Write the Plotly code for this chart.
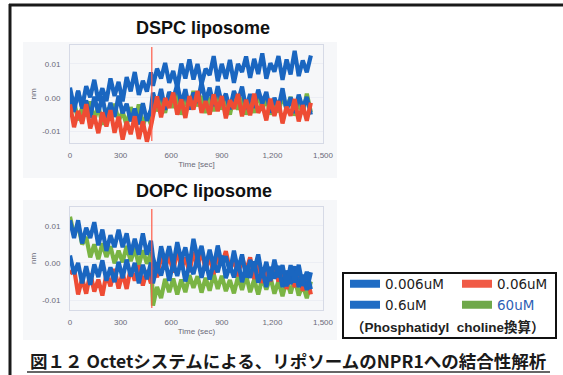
import plotly.graph_objects as go

# ---------------- data (response in units of 0.001 nm) ----------------
time_pre = list(range(0, 481, 24))       # before buffer switch (s)
time_post = list(range(492, 1429, 24))   # after buffer switch (s)
time_s = time_pre + time_post
step_time = 485

# DSPC liposome
dspc_blue_a = [3, -2.8, 1.9, -2.8, 3.4, 0.1, 5.3, -0.9, 2.8, -1, 5.7, 0.5, 4.7, -1.1, 6.1, 1.9, 7.6, 0.8, 5, 1.8, 7.5,
               3.5, 8.6, 5.7, 10.3, 4.4, 7.9, 3.0, 10.1, 5.7, 11.3, 5.4, 10.0, 4.0, 8.6, 6.7, 12.3, 4.9, 10.0, 5.6, 11.2,
               4.4, 10.0, 7.6, 12.2, 5.9, 11.5, 7.0, 13.1, 5.6, 10.2, 7.7, 12.3, 5.3, 11.3, 6.9, 13.9, 6.4, 11.0, 7.5, 12.5]
dspc_blue_b = [1, -4.2, 2.1, -3.1, -0.8, -6, 0.3, -4.4, 0.4, -6.3, -1.5, -5.7, 0.6, -4.6, -1.8, -7, -3.2, -7.9, -1.6, -6.8, -3.5,
               1.5, -2.7, 2.6, -3.6, 1.7, -0.5, 4, -2, 2.5, -3.5, 1.5, -1.5, 4.5, -1, 3, -2.5, 3.4, -1.7, 1.2, -3.4,
               2, -1.1, 3.3, -3.3, 1.1, -3, 2.4, -1.7, 1.7, -4.4, 0, -3.1, 2.8, -3.8, 0.1, -4.5, 0.9, -3.2, 0.2, -5]
dspc_red = [-2, -8.7, -3.9, -7.7, -1.9, -9.1, -5.3, -10.5, -4.3, -8.5, -3.7, -10.4, -5.6, -12.4, -7.1, -10.8, -5.5, -12.2, -7, -13, -8.4,
            -5, 0.4, -5.8, -0.1, -3, 1.5, -5, -0.5, -6, 0.5, -3.5, 2, -4.5, -1, -5, 1, -4, 0.5, -6.1, -0.7,
            -3.3, 1.1, -5.5, -0.6, -5.2, 1.2, -4.5, -2.1, -6.7, -0.3, -5.4, -1, -7.6, -2.7, -5.3, -0.4, -7, -2.2, -6.8, -1.5]
dspc_green = [-5.5, -1.1, -6.7, -2.9, -5.5, -1.1, -6.7, -2.3, -8, -3.1, -5.7, -1.8, -6.9, -4.1, -8.2, -2.8, -6.9, -2, -8.2, -4.8, -7.9,
              0.5, -4, -0.5, -4.5, 1.5, -3, 1, -5, -0.5, -3.5, 2, -2.5, 0.5, -4.5, 0, -4, 1.5, -3.5, -0.5, -5,
              0.5, -3.5, 0, -5, -1, -4.5, 1.5, -3.5, 0, -5, -0.8, -4.3, 0.7, -3.3, 0.2, -5.3, -1.3, -4.8, 1.2, -4.3]

# DOPC liposome
dopc_blue_a = [11.5, 6.75, 11.5, 5.25, 9.5, 6.75, 11, 4.75, 9, 3.25, 7.5, 4.25, 9, 4.25, 8, 2.25, 6.5, 2.25, 8, 2.25, 6,
               1.5, -2.7, 4.5, 0.1, 4.5, -0.6, 5.6, 0.7, 4.2, -0.9, 6.5, 1.3, 4.6, -1.1, 3.6, -1.1, 4.7, -0.5, 1.8, -2.5,
               3.3, -1.9, 2.3, -3.9, 0.8, -1.9, 2.3, -3.9, 0.3, -4.9, 0.9, -3.9, -0.6, -6.3, -0.6, -5.3, -0.5, -6.2, -2.4, -7.1]
dopc_blue_b = [2, -3, 0, -5.5, -0.9, -5.9, -0.4, -3.8, 0.7, -4.8, -1.2, -5.2, 0.3, -4.1, 0.9, -3.6, 0, -5.5, -0.5, -4.4, 0.1,
               -5.5, -0.7, -3.4, 0.9, -4.8, -0.1, -3.5, 1, -5, -0.5, -3, 1.5, -4, 0.5, -4.5, 0, -2.5, 2, -4.1, -0.7,
               -3.9, 0.5, -5.2, -0.8, -4, 0.4, -5.3, -1.9, -6.5, -1.1, -4.2, -0.8, -6.5, -2.1, -5.7, -0.9, -6.5, -3.2, -7.3, -2.5]
dopc_red = [-3, -1.5, -8.5, -4.2, -8.3, -2.8, -7.7, -4.5, -8.8, -3, -6.3, -1.6, -6.9, -2.7, -7, -1.4, -4.8, -0.7, -6.1, -2, -5.5,
            -0.5, -3.9, 2.2, -1.3, 2.1, -2.6, 4, -1.5, 1.5, -2.5, 3, -1, 3.5, -2, 2, -3, 2.5, -0.6, 3.2, -2,
            1.2, -3.6, 1.6, -2.2, 1.5, -4.3, -0.1, -5.4, -1.7, -5, -0.3, -5, -1.3, -7, -2.8, -6.5, -1.8, -7.5, -3.3, -8.5]
dopc_green = [12.5, 7.5, 10.5, 5, 7, 1.5, 5, 1, 5.3, 1.6, 4.5, -0.1, 3.3, 0.2, 4.6, 0.5, 4, -0.6, 3.4, -0.2, 2.8,
              -11.5, -6.5, -9.5, -4.3, -7.9, -4.2, -8.5, -4.5, -7.9, -3.3, -6.7, -3.6, -8, -4, -7.5, -3, -7, -3.5, -7.6, -4.6,
              -8.2, -3.7, -7.3, -3.3, -7.9, -4.5, -8.5, -4.1, -7.2, -3.8, -8.3, -4.9, -9, -4.6, -8.2, -4.2, -8.8, -5.9, -9.5, -5]

x_tickvals = [0, 300, 600, 900, 1200, 1500]
x_ticktext = ["0", "300", "600", "900", "1,200", "1,500"]
y_tickvals = [-10, 0, 10]
y_ticktext = ["-0.01", "0.00", "0.01"]

legend_rows = [
    [("0.006uM", "#1f6cc4"), ("0.06uM", "#f05a46")],
    [("0.6uM", "#1f6cc4"), ("<span style='color:#2f5fb5'>60uM</span>", "#6fa84a")],
]

BLUE = "#1a66c0"
RED = "#ee4c34"
GREEN = "#7ab444"

# ---------------- figure ----------------
W, H = 563, 375
def px(x): return x / W
def py(y): return 1 - y / H

fig = go.Figure()

top_traces = [(dspc_green, GREEN), (dspc_blue_b, BLUE), (dspc_blue_a, BLUE), (dspc_red, RED)]
bot_traces = [(dopc_green, GREEN), (dopc_red, RED), (dopc_blue_b, BLUE), (dopc_blue_a, BLUE)]
for vals, col in top_traces:
    fig.add_trace(go.Scatter(x=time_s, y=vals, mode="lines", line=dict(color=col, width=4.2),
                             xaxis="x", yaxis="y", showlegend=False, hoverinfo="skip"))
for vals, col in bot_traces:
    fig.add_trace(go.Scatter(x=time_s, y=vals, mode="lines", line=dict(color=col, width=4.2),
                             xaxis="x2", yaxis="y2", showlegend=False, hoverinfo="skip"))

# legend entries (swatches)
for i, row in enumerate(legend_rows):
    leg = "legend" if i == 0 else "legend2"
    for name, col in row:
        fig.add_trace(go.Scatter(x=[None], y=[None], mode="lines", name=name,
                                 line=dict(color=col, width=8), legend=leg,
                                 xaxis="x", yaxis="y", showlegend=True, hoverinfo="skip"))

for xr, yr in (("x", "y domain"), ("x2", "y2 domain")):
    fig.add_shape(type="line", xref=xr, yref=yr, x0=step_time, x1=step_time, y0=0.02, y1=0.98,
                  line=dict(color="#ff5a48", width=1.2))

tick_font = dict(family="Liberation Sans, Arial, sans-serif", size=8, color="#6a6a78")
axis_common = dict(showline=True, mirror=True, linecolor="#d6dae6", linewidth=1,
                   ticks="", tickfont=tick_font, zeroline=False)

legend_common = dict(orientation="h", xanchor="left", yanchor="middle",
                     bgcolor="rgba(0,0,0,0)", itemwidth=30,
                     font=dict(family="DejaVu Sans, sans-serif", size=13.5, color="#222"),
                     entrywidth=67, entrywidthmode="pixels", itemclick=False, itemdoubleclick=False)

fig.update_layout(
    width=W, height=H, margin=dict(l=0, r=0, t=0, b=0, autoexpand=False),
    paper_bgcolor="white", plot_bgcolor="rgba(0,0,0,0)",
    xaxis=dict(domain=[px(70), px(323)], range=[0, 1500], anchor="y",
               tickvals=x_tickvals, ticktext=x_ticktext, showgrid=False,
               ticklabelstandoff=4,
               title=dict(text="Time [sec]", font=tick_font, standoff=2), **axis_common),
    yaxis=dict(domain=[py(143), py(45)], range=[-13.4, 15.6], anchor="x",
               tickvals=y_tickvals, ticktext=y_ticktext, showgrid=True, gridcolor="#eceef4",
               ticklabelstandoff=7,
               title=dict(text="nm", font=tick_font, standoff=4), **axis_common),
    xaxis2=dict(domain=[px(70), px(323)], range=[0, 1500], anchor="y2",
                tickvals=x_tickvals, ticktext=x_ticktext, showgrid=False,
                ticklabelstandoff=4,
                title=dict(text="Time (sec)", font=tick_font, standoff=2), **axis_common),
    yaxis2=dict(domain=[py(310), py(207)], range=[-12.7, 15.1], anchor="x2",
                tickvals=y_tickvals, ticktext=y_ticktext, showgrid=True, gridcolor="#eceef4",
                ticklabelstandoff=7,
                title=dict(text="nm", font=tick_font, standoff=4), **axis_common),
    legend=dict(x=px(345), y=py(284), **legend_common),
    legend2=dict(x=px(345), y=py(305), **legend_common),
)

title_font = dict(family="Liberation Sans, Arial, sans-serif", size=18, color="#111")
fig.add_annotation(text="<b>DSPC liposome</b>", x=px(203), y=py(28), xref="paper", yref="paper",
                   showarrow=False, font=title_font, xanchor="center", yanchor="middle")
fig.add_annotation(text="<b>DOPC liposome</b>", x=px(204), y=py(191), xref="paper", yref="paper",
                   showarrow=False, font=title_font, xanchor="center", yanchor="middle")
fig.add_annotation(text="<b>（Phosphatidyl  choline換算）</b>", x=px(448), y=py(327),
                   xref="paper", yref="paper", showarrow=False, xanchor="center", yanchor="middle",
                   font=dict(family="Liberation Sans, Noto Sans CJK JP, sans-serif", size=13.5, color="#222"))
fig.add_annotation(text="<b>図１２ Octetシステムによる、リポソームのNPR1への結合性解析</b>",
                   x=px(288), y=py(360), xref="paper", yref="paper", showarrow=False,
                   xanchor="center", yanchor="middle",
                   font=dict(family="Noto Sans CJK JP, sans-serif", size=17.5, color="#1a1a1a"))

shapes = [
    # faint scanned panels behind plots
    dict(type="rect", xref="paper", yref="paper", x0=px(23), x1=px(337), y0=py(178), y1=py(42),
         fillcolor="#f6f7f9", line=dict(width=0), layer="below"),
    dict(type="rect", xref="paper", yref="paper", x0=px(23), x1=px(337), y0=py(340), y1=py(200),
         fillcolor="#f6f7f9", line=dict(width=0), layer="below"),
    # outer frame
    dict(type="line", xref="paper", yref="paper", x0=px(9), x1=1, y0=py(5), y1=py(5),
         line=dict(color="#1a1a1a", width=3)),
    dict(type="line", xref="paper", yref="paper", x0=px(10), x1=px(10), y0=py(4), y1=0,
         line=dict(color="#1a1a1a", width=3)),
    # legend box
    dict(type="rect", xref="paper", yref="paper", x0=px(343), x1=px(556), y0=py(338), y1=py(273),
         line=dict(color="#111", width=2), fillcolor="rgba(0,0,0,0)"),
    # caption underline
    dict(type="line", xref="paper", yref="paper", x0=px(27), x1=px(550), y0=py(372), y1=py(372),
         line=dict(color="#333", width=1.5)),
]
for s in shapes:
    fig.add_shape(**s)

fig.write_html(
    "out.html",
    config={"displayModeBar": False, "responsive": False},
    post_script="document.body.style.margin='0px';document.body.style.overflow='hidden';",
)
